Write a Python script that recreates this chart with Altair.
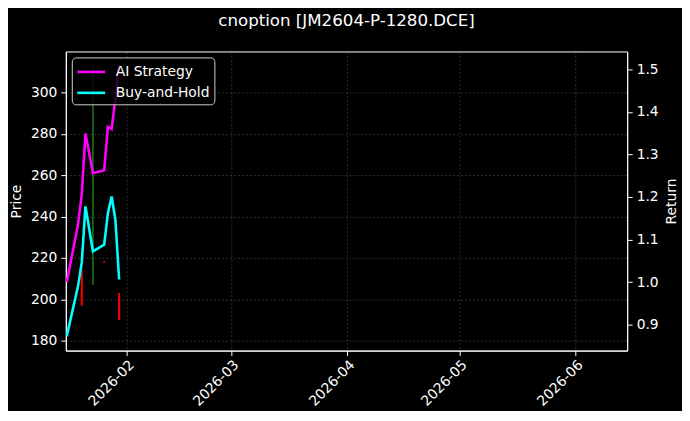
import altair as alt
import pandas as pd

# trading days shown in the chart
dates = ["2026-01-16", "2026-01-19", "2026-01-20", "2026-01-21", "2026-01-23",
         "2026-01-26", "2026-01-27", "2026-01-28", "2026-01-29", "2026-01-30"]
ai_strategy = [1.00, 1.135, 1.205, 1.349, 1.256, 1.263, 1.365, 1.36, 1.43, 1.51]
buy_and_hold = [0.873, 0.990, 1.045, 1.178, 1.072, 1.088, 1.162, 1.201, 1.146, 1.006]

# daily price ranges (low/high) on the price axis
bar_dates = ["2026-01-20", "2026-01-23", "2026-01-26", "2026-01-30"]
bar_low = [197, 207, 217.6, 190]
bar_high = [214, 313, 218.4, 203]
bar_direction = ["down", "up", "down", "down"]

series_names = ["AI Strategy", "Buy-and-Hold"]
price_ticks = [180, 200, 220, 240, 260, 280, 300]
return_ticks = [0.9, 1.0, 1.1, 1.2, 1.3, 1.4, 1.5]

n = len(dates)
returns = pd.DataFrame({
    "date": [d + "T00:00:00" for d in dates] * 2,
    "series": [series_names[0]] * n + [series_names[1]] * n,
    "value": ai_strategy + buy_and_hold,
})
bars = pd.DataFrame({
    "date": [d + "T00:00:00" for d in bar_dates],
    "low": bar_low,
    "high": bar_high,
    "direction": bar_direction,
})

x_enc = alt.X(
    "date:T",
    scale=alt.Scale(domain=[alt.DateTime(year=2026, month=1, date=15, hours=18),
                            alt.DateTime(year=2026, month=6, date=14, hours=20)]),
    axis=alt.Axis(title=None, format="%Y-%m",
                  values=[alt.DateTime(year=2026, month=m, date=1) for m in range(2, 7)],
                  labelAngle=-45, labelAlign="right", labelBaseline="top",
                  labelPadding=2),
)

price = (
    alt.Chart(bars)
    .mark_rule(clip=True)
    .encode(
        x=x_enc,
        y=alt.Y("low:Q", scale=alt.Scale(domain=[175.2, 319.8], nice=False, zero=False),
                axis=alt.Axis(title="Price", orient="left", values=price_ticks,
                              titlePadding=7)),
        y2="high:Q",
        color=alt.Color("direction:N",
                        scale=alt.Scale(domain=["up", "down"], range=["#1f9a1f", "#ff0000"]),
                        legend=None),
        strokeWidth=alt.StrokeWidth("direction:N",
                                    scale=alt.Scale(domain=["up", "down"], range=[1.2, 2]),
                                    legend=None),
    )
)

lines = (
    alt.Chart(returns)
    .mark_line(strokeWidth=2.6, clip=True)
    .encode(
        x=x_enc,
        y=alt.Y("value:Q", scale=alt.Scale(domain=[0.839, 1.542], nice=False, zero=False),
                axis=alt.Axis(title="Return", orient="right", values=return_ticks,
                              format=".1f", titleAngle=270, titleBaseline="top",
                              titlePadding=6)),
        color=alt.Color("series:N",
                        scale=alt.Scale(domain=series_names, range=["#ff00ff", "#00ffff"]),
                        legend=alt.Legend(title=None, orient="top-left", offset=6)),
    )
)

chart = (
    alt.layer(price, lines)
    .resolve_scale(y="independent", color="independent", strokeWidth="independent")
    .properties(
        width=563, height=300,
        title=alt.Title("cnoption [JM2604-P-1280.DCE]", color="white", fontSize=16.7,
                        font="DejaVu Sans", fontWeight="normal", anchor="middle", offset=22),
        autosize=alt.AutoSizeParams(type="none"),
        padding={"left": 58, "top": 43, "right": 55, "bottom": 60},
        background="black",
    )
    .configure_view(stroke="white", strokeWidth=1)
    .configure_axis(
        domainColor="white", tickColor="white", labelColor="white", titleColor="white",
        labelFont="DejaVu Sans", titleFont="DejaVu Sans", labelFontSize=13.9,
        titleFontSize=13.9, titleFontWeight="normal", tickSize=5, labelPadding=4,
        gridColor="white", gridOpacity=0.3, gridDash=[2, 2], gridWidth=0.6,
    )
    .configure_legend(
        fillColor="rgba(0,0,0,0.8)", strokeColor="#cccccc", cornerRadius=4, padding=4,
        labelColor="white", labelFont="DejaVu Sans", labelFontSize=13.9,
        symbolType="M-1.55,0H1.55", symbolSize=324, symbolStrokeWidth=2.6,
        symbolOffset=5, labelOffset=14, rowPadding=3,
    )
)

chart.save("out.html", embed_options={"renderer": "svg", "actions": False})
